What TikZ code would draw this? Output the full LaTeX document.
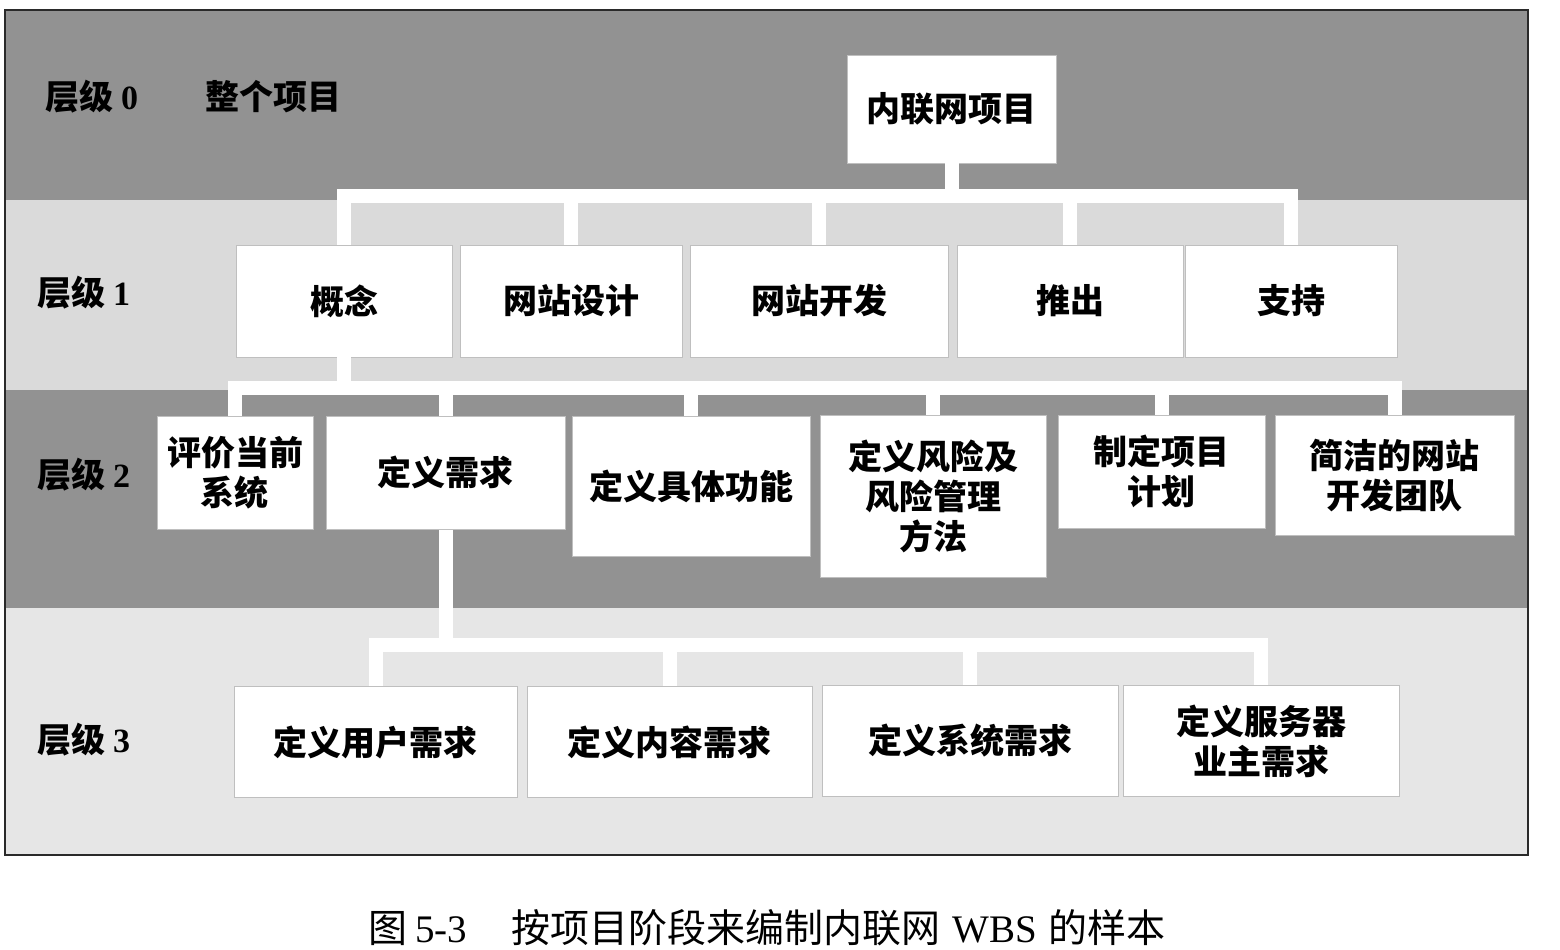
\documentclass[tikz,border=0pt]{standalone}
\usepackage{fontspec}
\setmainfont{Liberation Serif}
\newfontfamily\hei{Noto Sans CJK SC}
\usepackage{tikz}
\usetikzlibrary{calc}
\definecolor{fonce}{HTML}{929292}
\definecolor{clair}{HTML}{DADADA}
\definecolor{pale}{HTML}{E6E6E6}
\definecolor{cadre}{HTML}{2A2A2A}
\tikzset{
  boite/.style={fill=white,draw=black!25,line width=0.4pt,align=center,inner sep=0pt,
                font=\hei\bfseries\fontsize{17}{20}\selectfont},
  tige/.style={draw=white,line width=7pt},
  niveau/.style={anchor=west,inner sep=0pt,font=\hei\bfseries\fontsize{17}{20}\selectfont},
}

\begin{document}
\begin{tikzpicture}[x=0.5pt,y=-0.5pt,
  n1/.style={boite,minimum height=56pt},
  n2/.style={boite,anchor=north},
  n3/.style={boite,minimum height=55.5pt}]
  \useasboundingbox (0,0) rectangle (1560,949);
  % bandes des niveaux
  \fill[fonce] (5,10) rectangle (1528,200);
  \fill[clair] (5,200) rectangle (1528,390);
  \fill[fonce] (5,390) rectangle (1528,608);
  \fill[pale] (5,608) rectangle (1528,855);
  \draw[cadre,line width=1pt] (5,10) rectangle (1528,855);
  \node[niveau] (l0) at (45,97) {层级 {\rmfamily 0}};
  \node[niveau] (l0b) at (205,97) {整个项目};
  \node[niveau] (l1) at (37,293) {层级 {\rmfamily 1}};
  \node[niveau] (l2) at (37,475) {层级 {\rmfamily 2}};
  \node[niveau] (l3) at (37,740) {层级 {\rmfamily 3}};
  % niveau 0 et 1
  \node[boite,minimum width=104.5pt,minimum height=54pt] (racine) at (951.5,109) {内联网项目};
  \node[n1,minimum width=108pt] (concept) at (344,301) {概念};
  \node[n1,minimum width=111pt] (conception) at (571,301) {网站设计};
  \node[n1,minimum width=129pt] (developpement) at (819,301) {网站开发};
  \node[n1,minimum width=113pt] (lancement) at (1070,301) {推出};
  \node[n1,minimum width=106pt] (support) at (1291,301) {支持};
  % niveau 2
  \node[n2,minimum width=78pt,minimum height=56.5pt] (evaluer) at (235,416) {评价当前\\系统};
  \node[n2,minimum width=119.5pt,minimum height=56.5pt] (besoins) at (445.5,416) {定义需求};
  \node[n2,minimum width=119pt,minimum height=70pt] (fonctions) at (691,416) {定义具体功能};
  \node[n2,minimum width=113pt,minimum height=81pt] (risques) at (933,415) {定义风险及\\风险管理\\方法};
  \node[n2,minimum width=103.5pt,minimum height=56.5pt] (plan) at (1161.5,415) {制定项目\\计划};
  \node[n2,minimum width=119.5pt,minimum height=60pt] (equipe) at (1394.5,415) {简洁的网站\\开发团队};
  % niveau 3
  \node[n3,minimum width=141.5pt] (utilisateur) at (375.5,742) {定义用户需求};
  \node[n3,minimum width=142.5pt] (contenu) at (669.5,742) {定义内容需求};
  \node[n3,minimum width=148pt] (systeme) at (970,741) {定义系统需求};
  \node[n3,minimum width=138pt] (serveur) at (1261,741) {定义服务器\\业主需求};
  % liaisons
  \coordinate (barre0) at (0,196);
  \coordinate (barre1) at (0,388);
  \coordinate (barre2) at (0,645);
  \foreach \f in {concept,conception,developpement,lancement,support}
    \draw[tige] (racine.south) |- (barre0 -| \f.north) -- (\f.north);
  \foreach \f in {evaluer,besoins,fonctions,risques,plan,equipe}
    \draw[tige] (concept.south) |- (barre1 -| \f.north) -- (\f.north);
  \foreach \f in {utilisateur,contenu,systeme,serveur}
    \draw[tige] (besoins.south) |- (barre2 -| \f.north) -- (\f.north);
  \node[font=\hei\fontsize{19.5}{22}\selectfont] (legende) at (767,928)
    {图\hspace{4pt}{\rmfamily 5-3}\hspace{22pt}按项目阶段来编制内联网\hspace{6pt}{\rmfamily WBS}\hspace{6pt}的样本};
\end{tikzpicture}
\end{document}
